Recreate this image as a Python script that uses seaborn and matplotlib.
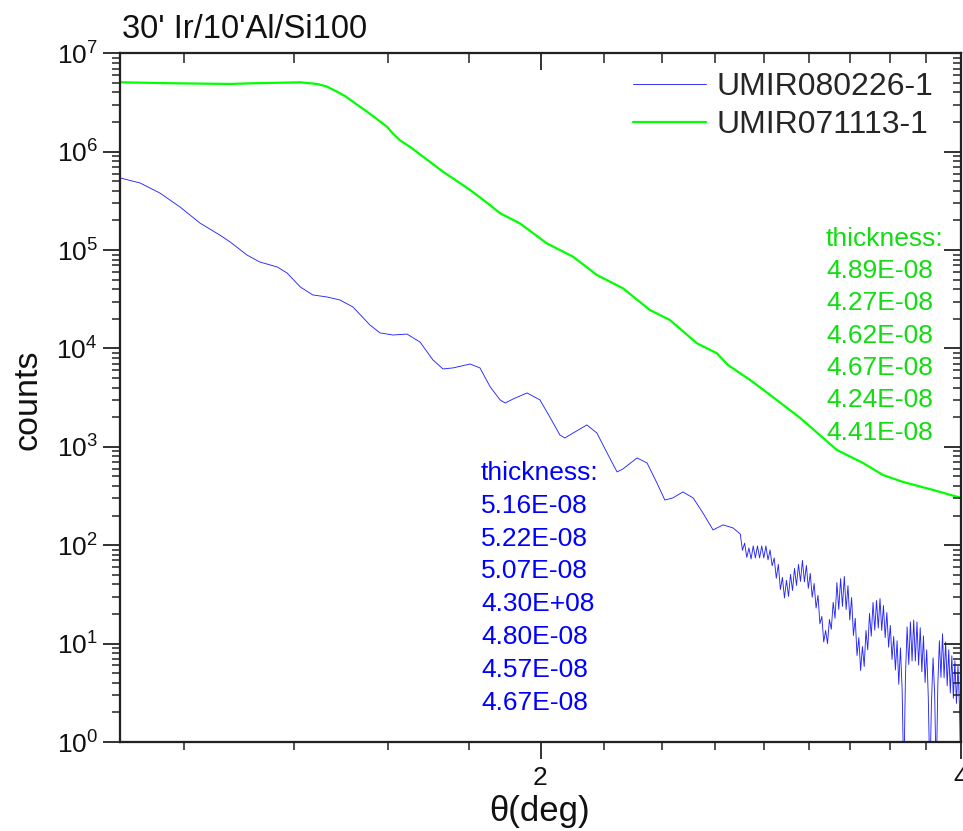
import matplotlib
matplotlib.use("Agg")
import matplotlib.pyplot as plt
import pandas as pd
import seaborn as sns
from matplotlib.ticker import LogLocator, NullFormatter

# ---------------- data ----------------
title_text = "30' Ir/10'Al/Si100"
series_names = ["UMIR080226-1", "UMIR071113-1"]

# smooth, oscillating part of the blue scan
theta_blue_smooth = [1.000, 1.0335, 1.068, 1.104, 1.141, 1.179, 1.199, 1.233, 1.259, 1.296,
                     1.317, 1.346, 1.374, 1.406, 1.437, 1.468, 1.510, 1.535, 1.568, 1.605,
                     1.640, 1.675, 1.703, 1.731, 1.781, 1.810, 1.841, 1.871, 1.887, 1.912,
                     1.956, 1.998, 2.031, 2.065, 2.082, 2.110, 2.159, 2.195, 2.232, 2.269,
                     2.291, 2.345, 2.384, 2.423, 2.455, 2.488, 2.529, 2.572, 2.614, 2.658,
                     2.702, 2.747]
counts_blue_smooth = [5.41e5, 4.81e5, 3.80e5, 2.74e5, 1.88e5, 1.42e5, 1.21e5, 8.9e4, 7.57e4, 6.73e4,
                      5.85e4, 4.22e4, 3.50e4, 3.34e4, 3.11e4, 2.64e4, 1.73e4, 1.44e4, 1.37e4, 1.40e4,
                      1.16e4, 7.64e3, 6.19e3, 6.34e3, 6.95e3, 6.34e3, 4.06e3, 3.00e3, 2.79e3, 3.07e3,
                      3.53e3, 3.00e3, 2.01e3, 1.32e3, 1.23e3, 1.38e3, 1.67e3, 1.38e3, 867, 556,
                      596, 771, 686, 430, 288, 303, 348, 303, 213, 143,
                      161, 150]

# noisy tail of the blue scan (upper / lower edges of the noise band)
theta_blue_noisy = [2.78, 2.79, 2.80, 2.81, 2.82, 2.83, 2.84, 2.85, 2.86, 2.87,
                    2.88, 2.89, 2.90, 2.91, 2.92, 2.93, 2.94, 2.95, 2.96, 2.97,
                    2.98, 2.99, 3.00, 3.01, 3.02, 3.03, 3.04, 3.05, 3.06, 3.07,
                    3.08, 3.09, 3.10, 3.11, 3.12, 3.13, 3.14, 3.15, 3.16, 3.17,
                    3.18, 3.19, 3.20, 3.21, 3.22, 3.23, 3.24, 3.25, 3.26, 3.27,
                    3.28, 3.29, 3.30, 3.31, 3.32, 3.33, 3.34, 3.35, 3.36, 3.37,
                    3.38, 3.39, 3.40, 3.41, 3.42, 3.43, 3.44, 3.45, 3.46, 3.47,
                    3.48, 3.49, 3.50, 3.51, 3.52, 3.53, 3.54, 3.55, 3.56, 3.57,
                    3.58, 3.59, 3.60, 3.61, 3.62, 3.63, 3.64, 3.65, 3.66, 3.67,
                    3.68, 3.69, 3.70, 3.71, 3.72, 3.73, 3.74, 3.75, 3.76, 3.77,
                    3.78, 3.79, 3.80, 3.81, 3.82, 3.83, 3.84, 3.85, 3.86, 3.87,
                    3.88, 3.89, 3.90, 3.91, 3.92, 3.93, 3.94, 3.95, 3.96, 3.97,
                    3.98, 3.99, 4.00]
counts_blue_noisy = [130, 88.9, 105, 75.3, 93.8, 72.6, 98.3, 74.3, 98.3, 74.3,
                     98.3, 74.3, 98.3, 71.0, 89.5, 61.9, 74.3, 46.2, 63.9, 35.5,
                     47.1, 29.1, 44.0, 30.2, 50.5, 34.7, 58.1, 39.0, 63.9, 42.9,
                     70.1, 42.4, 62.4, 36.5, 51.8, 29.6, 40.9, 23.0, 30.9, 15.9,
                     18.9, 10.4, 13.6, 10.0, 17.6, 14.0, 26.3, 18.1, 41.7, 22.3,
                     45.8, 23.9, 48.2, 22.2, 38.9, 17.4, 29.4, 12.1, 18.1, 7.57,
                     11.5, 5.32, 9.34, 5.86, 13.6, 8.64, 20.3, 11.9, 26.2, 13.7,
                     27.4, 14.4, 28.7, 13.6, 24.4, 11.5, 20.7, 9.21, 15.3, 6.91,
                     11.8, 5.39, 10.7, 3.86, 9.06, 3.46, 0.4, 4.58, 14.8, 6.13,
                     16.6, 6.66, 17.4, 6.66, 16.6, 6.06, 14.5, 5.17, 12.0, 4.03,
                     8.66, 2.86, 0.4, 2.56, 7.17, 3.09, 0.4, 3.78, 10.7, 4.54,
                     12.6, 4.49, 10.4, 3.73, 8.66, 3.16, 7.52, 2.78, 6.69, 2.47,
                     5.95, 2.30, 0.4]

theta_green = [1.000, 1.104, 1.199, 1.239, 1.346, 1.384, 1.406, 1.430, 1.449, 1.468,
               1.497, 1.522, 1.553, 1.568, 1.587, 1.613, 1.648, 1.703, 1.781, 1.832,
               1.871, 1.933, 2.021, 2.110, 2.195, 2.291, 2.395, 2.475, 2.588, 2.675,
               2.724, 2.825, 2.920, 3.068, 3.260, 3.403, 3.517, 3.635, 3.819, 4.000]
counts_green = [5.07e6, 4.95e6, 4.88e6, 4.95e6, 5.07e6, 4.88e6, 4.60e6, 4.07e6, 3.68e6, 3.22e6,
                2.65e6, 2.23e6, 1.79e6, 1.53e6, 1.30e6, 1.12e6, 8.9e5, 6.26e5, 4.08e5, 3.01e5,
                2.37e5, 1.87e5, 1.17e5, 8.57e4, 5.58e4, 4.09e4, 2.46e4, 1.95e4, 1.13e4, 8.93e3,
                6.79e3, 4.79e3, 3.37e3, 1.97e3, 929, 686, 518, 440, 365, 303]

thickness_blue = ["thickness:", "5.16E-08", "5.22E-08", "5.07E-08", "4.30E+08",
                  "4.80E-08", "4.57E-08", "4.67E-08"]
thickness_green = ["thickness:", "4.89E-08", "4.27E-08", "4.62E-08", "4.67E-08",
                   "4.24E-08", "4.41E-08"]

x_major = [2, 4]
x_major_labels = ["2", "4"]
x_minor = [1.111, 1.333, 1.556, 1.778, 2.222, 2.444, 2.667, 2.889,
           3.111, 3.333, 3.556, 3.778]

# ---------------- style ----------------
sns.set_theme(style="ticks")
plt.rcParams["font.family"] = ["Liberation Sans", "DejaVu Sans"]
plt.rcParams["mathtext.fontset"] = "custom"
plt.rcParams["mathtext.rm"] = "Liberation Sans"
plt.rcParams["mathtext.it"] = "Liberation Sans:italic"
plt.rcParams["mathtext.bf"] = "Liberation Sans:bold"

BLUE = "#0000ff"
W, H = 963, 831

fig = plt.figure(figsize=(W / 100, H / 100), dpi=100)
ax = fig.add_axes([120 / W, 1 - 742 / H, 841 / W, (742 - 53.3) / H])

df_b = pd.DataFrame({"theta": theta_blue_smooth + theta_blue_noisy,
                     "counts": counts_blue_smooth + counts_blue_noisy})
df_g = pd.DataFrame({"theta": theta_green, "counts": counts_green})
sns.lineplot(data=df_b, x="theta", y="counts", ax=ax, color=BLUE, lw=0.65, alpha=0.85,
             estimator=None, sort=False, label=series_names[0])
sns.lineplot(data=df_g, x="theta", y="counts", ax=ax, color="#00ff00", lw=1.6,
             estimator=None, sort=False, label=series_names[1])

ax.set_xscale("log")
ax.set_yscale("log")
ax.set_xlim(1, 4)
ax.set_ylim(1, 1e7)
ax.set_xlabel("")
ax.set_ylabel("")

ax.set_xticks(x_major, labels=x_major_labels)
ax.set_xticks(x_minor, minor=True)
ax.xaxis.set_minor_formatter(NullFormatter())
ax.yaxis.set_major_locator(LogLocator(base=10, numticks=20))
ax.yaxis.set_minor_locator(LogLocator(base=10, subs=range(2, 10), numticks=20))
ax.yaxis.set_minor_formatter(NullFormatter())

ax.tick_params(axis="both", which="major", direction="out", length=12, width=1.3,
               labelsize=19, color="#222222", labelcolor="#111111")
ax.tick_params(axis="both", which="minor", direction="out", length=6, width=1.1,
               color="#222222")
ax.tick_params(axis="x", which="major", pad=5)
ax.tick_params(axis="y", which="major", pad=4)

for s in ax.spines.values():
    s.set_linewidth(1.5)
    s.set_color("#222222")

# mirrored axes: ticks pointing inward on top and right
axr = ax.twinx()
axr.set_yscale("log")
axr.set_ylim(1, 1e7)
axr.yaxis.set_major_locator(LogLocator(base=10, numticks=20))
axr.yaxis.set_minor_locator(LogLocator(base=10, subs=range(2, 10), numticks=20))
axr.tick_params(axis="y", which="major", direction="in", length=12, width=1.3,
                labelright=False, color="#222222")
axr.tick_params(axis="y", which="minor", direction="in", length=6, width=1.1,
                color="#222222")

axt = ax.twiny()
axt.set_xscale("log")
axt.set_xlim(1, 4)
axt.set_xticks(x_major, labels=[""] * len(x_major))
axt.set_xticks(x_minor, minor=True)
axt.xaxis.set_minor_formatter(NullFormatter())
axt.tick_params(axis="x", which="major", direction="in", length=12, width=1.3,
                labeltop=False, color="#222222")
axt.tick_params(axis="x", which="minor", direction="in", length=7, width=1.1,
                color="#222222")
for a in (axr, axt):
    for s in a.spines.values():
        s.set_linewidth(1.5)
        s.set_color("#222222")

# legend
handles, labels = ax.get_legend_handles_labels()
ax.legend(handles, labels, loc="upper left", frameon=False, fontsize=23,
          bbox_to_anchor=(633 / W, 1 - 72 / H), bbox_transform=fig.transFigure,
          borderpad=0, borderaxespad=0, handlelength=2.3, handletextpad=0.32,
          labelspacing=0.26)

# texts
fig.text(122 / W, 1 - 38 / H, title_text, fontsize=23.5, color="#111111",
         ha="left", va="baseline")
fig.text(28 / W, 1 - 400 / H, "counts", fontsize=24.5, rotation=90,
         ha="center", va="center", color="#111111")
fig.text(540 / W, 1 - 812 / H, "θ(deg)", fontsize=25, ha="center", va="center",
         color="#111111")

for i, t in enumerate(thickness_blue):
    fig.text(481 / W, 1 - (480 + i * 32.8) / H, t, fontsize=19, color=BLUE,
             ha="left", va="baseline")
for i, t in enumerate(thickness_green):
    fig.text(826 / W, 1 - (245.5 + i * 32.4) / H, t, fontsize=19, color="#11dd11",
             ha="left", va="baseline")

fig.savefig("out.png", dpi=100)
